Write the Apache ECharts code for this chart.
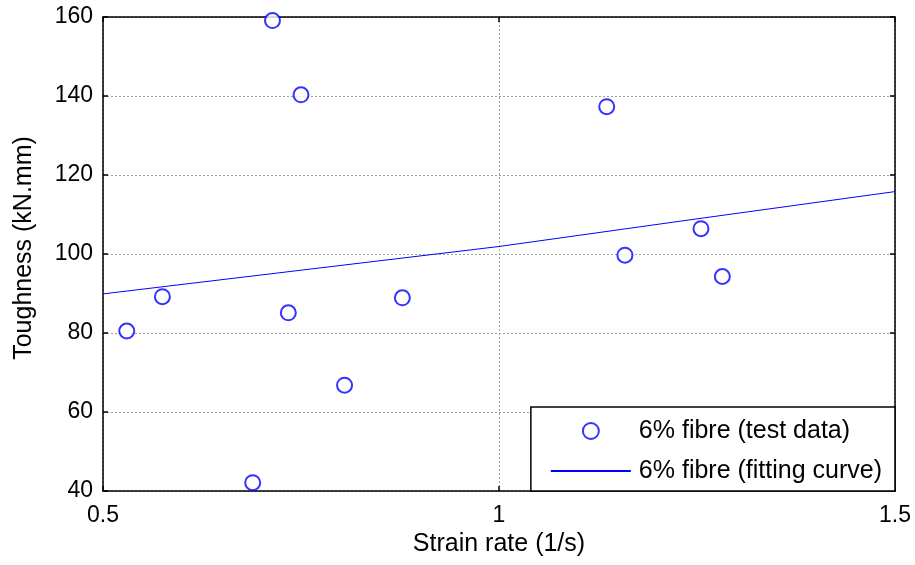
<!DOCTYPE html>
<html>
<head>
<meta charset="utf-8">
<script src="https://cdn.jsdelivr.net/npm/echarts@6/dist/echarts.min.js"></script>
<style>
  html, body { margin: 0; padding: 0; background: #fff; }
  #chart { width: 915px; height: 565px; }
</style>
</head>
<body>
<div id="chart"></div>
<script>
// test data (strain rate, toughness)
var testRate = [0.530, 0.575, 0.689, 0.714, 0.734, 0.750, 0.805, 0.878, 1.136, 1.159, 1.255, 1.282];
var testToughness = [80.5, 89.2, 42.1, 159.1, 85.1, 140.3, 66.8, 88.9, 137.3, 99.7, 106.4, 94.3];

// fitting curve
var fitRate = [0.5, 0.75, 1.0, 1.25, 1.5];
var fitToughness = [89.9, 95.9, 101.9, 108.9, 115.8];

var xTicks = [0.5, 1, 1.5];
var yTicks = [40, 60, 80, 100, 120, 140, 160];

var fontName = 'Liberation Sans';

var myChart = echarts.init(document.getElementById('chart'));

var testData = testRate.map(function (x, i) { return [x, testToughness[i]]; });
var fitData = fitRate.map(function (x, i) { return [x, fitToughness[i]]; });

var gridLine = { show: true, lineStyle: { color: '#a0a0a0', type: [2, 2], width: 1 } };
var boxLine = { show: true, lineStyle: { color: '#000', width: 1.5 } };
var tickIn = { show: true, inside: true, length: 5, lineStyle: { color: '#000', width: 1.5 } };

var option = {
  animation: false,
  textStyle: { fontFamily: fontName },
  grid: { left: 103, right: 20, top: 17, bottom: 74, containLabel: false, outerBoundsMode: 'none' },
  xAxis: [{
    type: 'value',
    min: xTicks[0],
    max: xTicks[xTicks.length - 1],
    interval: 0.5,
    name: 'Strain rate (1/s)',
    nameLocation: 'middle',
    nameGap: 39,
    nameTextStyle: { color: '#000', fontSize: 25, fontFamily: fontName },
    axisLine: boxLine,
    axisTick: tickIn,
    axisLabel: { color: '#000', fontSize: 23, margin: 13, fontFamily: fontName },
    splitLine: gridLine
  }, {
    type: 'value',
    position: 'top',
    min: xTicks[0],
    max: xTicks[xTicks.length - 1],
    interval: 0.5,
    axisLine: boxLine,
    axisTick: tickIn,
    axisLabel: { show: false },
    splitLine: { show: false }
  }],
  yAxis: [{
    type: 'value',
    min: yTicks[0],
    max: yTicks[yTicks.length - 1],
    interval: 20,
    name: 'Toughness (kN.mm)',
    nameLocation: 'middle',
    nameGap: 66,
    nameTextStyle: { color: '#000', fontSize: 25, fontFamily: fontName, padding: [0, 0, 0, 12] },
    axisLine: boxLine,
    axisTick: tickIn,
    axisLabel: { color: '#000', fontSize: 23, margin: 10, fontFamily: fontName },
    splitLine: gridLine
  }, {
    type: 'value',
    position: 'right',
    min: yTicks[0],
    max: yTicks[yTicks.length - 1],
    interval: 20,
    axisLine: boxLine,
    axisTick: tickIn,
    axisLabel: { show: false },
    splitLine: { show: false }
  }],
  legend: {
    orient: 'vertical',
    right: 20,
    bottom: 74,
    padding: [10, 13, 6, 19],
    itemGap: 12,
    itemWidth: 80,
    itemHeight: 16,
    borderColor: '#000',
    borderWidth: 1.5,
    borderRadius: 0,
    backgroundColor: '#fff',
    textStyle: { color: '#000', fontSize: 25, lineHeight: 28, fontFamily: fontName, padding: [0, 0, 0, 3] },
    data: [
      { name: '6% fibre (test data)' },
      { name: '6% fibre (fitting curve)', itemStyle: { opacity: 0, borderWidth: 0 } }
    ]
  },
  series: [{
    name: '6% fibre (test data)',
    type: 'scatter',
    symbol: 'emptyCircle',
    legendIcon: 'emptyCircle',
    symbolSize: 15,
    itemStyle: { color: '#0000ff', borderColor: '#0000ff', borderWidth: 1 },
    data: testData,
    z: 3
  }, {
    name: '6% fibre (fitting curve)',
    type: 'line',
    showSymbol: false,
    symbol: 'none',
    lineStyle: { color: '#0000ff', width: 1 },
    itemStyle: { color: '#0000ff' },
    data: fitData,
    z: 2
  }]
};

myChart.setOption(option);
</script>
</body>
</html>
